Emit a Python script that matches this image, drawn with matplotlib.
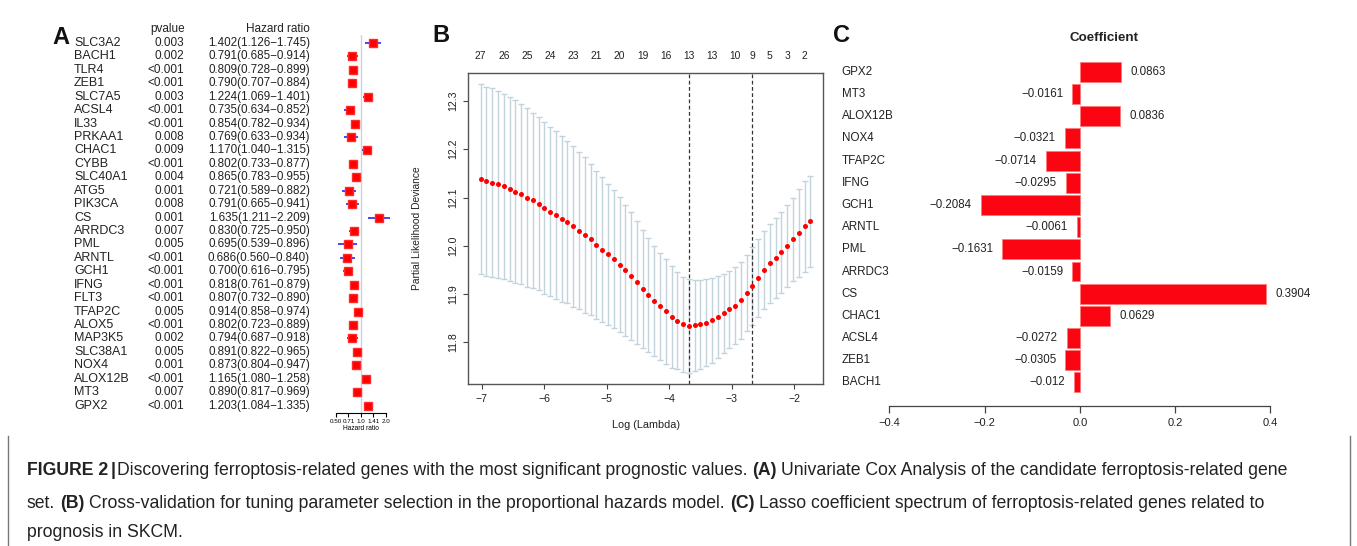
import matplotlib
matplotlib.use("Agg")
import matplotlib.pyplot as plt
import matplotlib.transforms as mtrans
from matplotlib.ticker import NullLocator, NullFormatter

plt.rcParams["font.family"] = ["Liberation Sans", "DejaVu Sans"]

W, H = 1357, 546

# ---- panel A: univariate Cox ----
genes_a = ["SLC3A2", "BACH1", "TLR4", "ZEB1", "SLC7A5", "ACSL4", "IL33", "PRKAA1",
           "CHAC1", "CYBB", "SLC40A1", "ATG5", "PIK3CA", "CS", "ARRDC3", "PML",
           "ARNTL", "GCH1", "IFNG", "FLT3", "TFAP2C", "ALOX5", "MAP3K5", "SLC38A1",
           "NOX4", "ALOX12B", "MT3", "GPX2"]
pvals_a = ["0.003", "0.002", "<0.001", "<0.001", "0.003", "<0.001", "<0.001", "0.008",
           "0.009", "<0.001", "0.004", "0.001", "0.008", "0.001", "0.007", "0.005",
           "<0.001", "<0.001", "<0.001", "<0.001", "0.005", "<0.001", "0.002", "0.005",
           "0.001", "<0.001", "0.007", "<0.001"]
hr_a = [1.402, 0.791, 0.809, 0.790, 1.224, 0.735, 0.854, 0.769, 1.170, 0.802, 0.865,
        0.721, 0.791, 1.635, 0.830, 0.695, 0.686, 0.700, 0.818, 0.807, 0.914, 0.802,
        0.794, 0.891, 0.873, 1.165, 0.890, 1.203]
lo_a = [1.126, 0.685, 0.728, 0.707, 1.069, 0.634, 0.782, 0.633, 1.040, 0.733, 0.783,
        0.589, 0.665, 1.211, 0.725, 0.539, 0.560, 0.616, 0.761, 0.732, 0.858, 0.723,
        0.687, 0.822, 0.804, 1.080, 0.817, 1.084]
hi_a = [1.745, 0.914, 0.899, 0.884, 1.401, 0.852, 0.934, 0.934, 1.315, 0.877, 0.955,
        0.882, 0.941, 2.209, 0.950, 0.896, 0.840, 0.795, 0.879, 0.890, 0.974, 0.889,
        0.918, 0.965, 0.947, 1.258, 0.969, 1.335]
hr_ticks = [0.50, 0.71, 1.0, 1.41, 2.0]
hr_tick_labels = ["0.50", "0.71", "1.0", "1.41", "2.0"]

# ---- panel B: cross-validation curve ----
log_lambda = [-7.016, -6.924, -6.831, -6.739, -6.646, -6.554, -6.461, -6.369, -6.276, -6.184,
              -6.091, -5.999, -5.906, -5.814, -5.721, -5.629, -5.536, -5.444, -5.351, -5.259,
              -5.166, -5.074, -4.981, -4.889, -4.796, -4.704, -4.611, -4.519, -4.426, -4.334,
              -4.241, -4.149, -4.056, -3.964, -3.871, -3.779, -3.686, -3.594, -3.501, -3.409,
              -3.316, -3.224, -3.131, -3.039, -2.946, -2.854, -2.761, -2.669, -2.576, -2.484,
              -2.391, -2.299, -2.206, -2.114, -2.021, -1.929, -1.836, -1.744]
cv_mean = [12.138, 12.134, 12.131, 12.127, 12.123, 12.118, 12.112, 12.107, 12.100, 12.094,
           12.087, 12.079, 12.071, 12.064, 12.056, 12.049, 12.040, 12.031, 12.022, 12.013,
           12.002, 11.992, 11.982, 11.972, 11.961, 11.949, 11.937, 11.924, 11.911, 11.898,
           11.885, 11.875, 11.864, 11.853, 11.845, 11.837, 11.834, 11.835, 11.837, 11.841,
           11.846, 11.853, 11.860, 11.868, 11.876, 11.887, 11.902, 11.916, 11.933, 11.950,
           11.964, 11.975, 11.987, 12.000, 12.013, 12.027, 12.040, 12.051]
cv_se = [0.197, 0.196, 0.195, 0.194, 0.192, 0.190, 0.189, 0.186, 0.185, 0.182,
         0.179, 0.178, 0.176, 0.174, 0.172, 0.168, 0.167, 0.163, 0.161, 0.156,
         0.153, 0.150, 0.146, 0.143, 0.140, 0.136, 0.132, 0.127, 0.122, 0.118,
         0.114, 0.111, 0.108, 0.106, 0.101, 0.099, 0.097, 0.094, 0.092, 0.090,
         0.088, 0.085, 0.082, 0.080, 0.079, 0.080, 0.078, 0.081, 0.080, 0.081,
         0.082, 0.083, 0.084, 0.085, 0.087, 0.091, 0.094, 0.094]
lambda_min = -3.686
lambda_1se = -2.669
top_pos = [-7.016, -6.646, -6.276, -5.906, -5.536, -5.166, -4.796, -4.426,
           -4.056, -3.686, -3.316, -2.946, -2.669, -2.391, -2.114, -1.836]
top_nonzero = ["27", "26", "25", "24", "23", "21", "20", "19",
               "16", "13", "13", "10", "9", "5", "3", "2"]

# ---- panel C: lasso coefficients ----
genes_c = ["GPX2", "MT3", "ALOX12B", "NOX4", "TFAP2C", "IFNG", "GCH1", "ARNTL",
           "PML", "ARRDC3", "CS", "CHAC1", "ACSL4", "ZEB1", "BACH1"]
coef_c = [0.0863, -0.0161, 0.0836, -0.0321, -0.0714, -0.0295, -0.2084, -0.0061,
          -0.1631, -0.0159, 0.3904, 0.0629, -0.0272, -0.0305, -0.012]
coef_labels = ["0.0863", "\u22120.0161", "0.0836", "\u22120.0321", "\u22120.0714",
               "\u22120.0295", "\u22120.2084", "\u22120.0061", "\u22120.1631", "\u22120.0159",
               "0.3904", "0.0629", "\u22120.0272", "\u22120.0305", "\u22120.012"]


def px_rect(l, t, r, b):
    return [l / W, 1 - b / H, (r - l) / W, (b - t) / H]


fig = plt.figure(figsize=(W / 100, H / 100), dpi=100)

# ================= A =================
axA = fig.add_axes(px_rect(335.7, 35, 386, 413))
rows = list(range(len(genes_a)))
axA.set_xscale("log", base=2)
axA.set_xlim(0.5, 2.0)
axA.set_ylim(27.55, -0.6)
axA.axvline(1.0, color="#c9d3e2", lw=1, zorder=0)
axA.hlines(rows, lo_a, hi_a, color="#2626ff", lw=1.2, clip_on=False, zorder=2)
axA.plot(hr_a, rows, "s", color="#ff0000", ms=5.3, mec="#ff2a2a", clip_on=False, zorder=3)
for s in ["top", "right", "left"]:
    axA.spines[s].set_visible(False)
axA.spines["bottom"].set_bounds(0.5, 2.0)
axA.spines["bottom"].set_linewidth(0.8)
axA.set_yticks([])
axA.set_xticks(hr_ticks)
axA.set_xticklabels(hr_tick_labels)
axA.xaxis.set_minor_locator(NullLocator())
axA.xaxis.set_minor_formatter(NullFormatter())
axA.tick_params(axis="x", labelsize=4.5, length=3, width=0.8, pad=1.5)
axA.set_xlabel("Hazard ratio", fontsize=4.8, labelpad=0.5)

trA = mtrans.blended_transform_factory(fig.transFigure, axA.transData)
for i, g in enumerate(genes_a):
    hr_txt = f"{hr_a[i]:.3f}({lo_a[i]:.3f}\u2212{hi_a[i]:.3f})"
    axA.text(74 / W, i, g, transform=trA, ha="left", va="center", fontsize=9.0, color="#222")
    axA.text(184 / W, i, pvals_a[i], transform=trA, ha="right", va="center", fontsize=8.5, color="#222")
    axA.text(310 / W, i, hr_txt, transform=trA, ha="right", va="center", fontsize=8.4, color="#222")
axA.text(168 / W, -1.05, "pvalue", transform=trA, ha="center", va="center", fontsize=8.5, color="#222")
axA.text(310 / W, -1.05, "Hazard ratio", transform=trA, ha="right", va="center", fontsize=8.5, color="#222")

# ================= B =================
axB = fig.add_axes(px_rect(468, 72.7, 823, 384))
axB.errorbar(log_lambda, cv_mean, yerr=cv_se, fmt="none", ecolor="#c3d3dc",
             elinewidth=1.0, capsize=2.5, capthick=1.0, zorder=1)
axB.scatter(log_lambda, cv_mean, s=13, color="#ff0000", zorder=3, linewidths=0)
axB.axvline(lambda_min, color="#333333", lw=0.9, ls=(0, (3, 2)), zorder=2)
axB.axvline(lambda_1se, color="#333333", lw=0.9, ls=(0, (3, 2)), zorder=2)
axB.set_xlim(-7.22, -1.54)
axB.set_ylim(11.7136, 12.3586)
axB.set_xticks([-7, -6, -5, -4, -3, -2])
axB.set_xticklabels(["\u22127", "\u22126", "\u22125", "\u22124", "\u22123", "\u22122"])
axB.set_yticks([11.8, 11.9, 12.0, 12.1, 12.2, 12.3])
axB.set_yticklabels(["11.8", "11.9", "12.0", "12.1", "12.2", "12.3"], rotation=90, va="center")
axB.tick_params(labelsize=7.6, length=3.5, width=0.8, color="#444", labelcolor="#222", pad=3.5)
for s in axB.spines.values():
    s.set_color("#555555")
    s.set_linewidth(1.0)
axB.set_xlabel("Log (Lambda)", fontsize=7.8, color="#222", labelpad=12)
axB.set_ylabel("Partial Likelihood Deviance", fontsize=7.4, color="#222")
axB.yaxis.set_label_coords(-46 / 355, 0.5)
top = axB.secondary_xaxis("top")
top.set_xticks(top_pos)
top.set_xticklabels(top_nonzero)
top.tick_params(length=0, labelsize=7.4, labelcolor="#222", pad=8.5)
top.spines["top"].set_visible(False)

# ================= C =================
axC = fig.add_axes(px_rect(889.3, 58, 1270.3, 406))
rows_c = list(range(len(genes_c)))
axC.barh(rows_c, coef_c, height=0.9, color="#fb0512", edgecolor="#ff7a7a", linewidth=0.6)
axC.set_xlim(-0.4, 0.4)
axC.set_ylim(15.06, -0.62)
for s in ["top", "right", "left"]:
    axC.spines[s].set_visible(False)
axC.spines["bottom"].set_bounds(-0.4, 0.4)
axC.spines["bottom"].set_color("#444")
axC.spines["bottom"].set_linewidth(0.9)
axC.set_yticks([])
axC.set_xticks([-0.4, -0.2, 0.0, 0.2, 0.4])
axC.set_xticklabels(["\u22120.4", "\u22120.2", "0.0", "0.2", "0.4"])
axC.tick_params(axis="x", labelsize=8.0, length=5, width=0.9, color="#444", labelcolor="#222", pad=4)
trC = mtrans.blended_transform_factory(fig.transFigure, axC.transData)
for i, g in enumerate(genes_c):
    axC.text(841.7 / W, i, g, transform=trC, ha="left", va="center", fontsize=8.4, color="#222")
    v = coef_c[i]
    axC.annotate(coef_labels[i], (v, i), xytext=(7 if v > 0 else -6.5, 0),
                 textcoords="offset points", ha="left" if v > 0 else "right",
                 va="center", fontsize=8.3, color="#222")
fig.text(1104 / W, 1 - 38.3 / H, "Coefficient", ha="center", va="center",
         fontsize=9.6, fontweight="bold", color="#222")

# panel letters
for lx, ly, lab in [(52, 37, "A"), (432, 36, "B"), (833, 36, "C")]:
    fig.text(lx / W, 1 - ly / H, lab, ha="left", va="center", fontsize=17,
             fontweight="bold", color="#111")

# ================= caption =================
renderer = fig.canvas.get_renderer()
cap_size = 12.7


def text_width(s, bold):
    t = fig.text(0, 0, s, fontsize=cap_size, fontweight="bold" if bold else "normal")
    w = t.get_window_extent(renderer).width
    t.remove()
    return w


space_w = text_width("x x", False) - text_width("xx", False)


def rich_line(x_px, y_px, segments):
    x = x_px
    for s, bold, gap in segments:
        x += gap * space_w
        t = fig.text(x / W, 1 - y_px / H, s, fontsize=cap_size, ha="left", va="baseline",
                     fontweight="bold" if bold else "normal", color="#222")
        x += t.get_window_extent(renderer).width


rich_line(27, 475, [("FIGURE 2", True, 0), ("|", True, 0.4),
                    ("Discovering ferroptosis-related genes with the most significant prognostic values.", False, 0.3),
                    ("(A)", True, 1),
                    ("Univariate Cox Analysis of the candidate ferroptosis-related gene", False, 1)])
rich_line(27, 508, [("set.", False, 0), ("(B)", True, 1),
                    ("Cross-validation for tuning parameter selection in the proportional hazards model.", False, 1),
                    ("(C)", True, 1),
                    ("Lasso coefficient spectrum of ferroptosis-related genes related to", False, 1)])
rich_line(27, 537, [("prognosis in SKCM.", False, 0)])

# caption box side rules
fig.add_artist(plt.Line2D([8 / W, 8 / W], [0, 1 - 436 / H], color="#777", lw=1))
fig.add_artist(plt.Line2D([1350 / W, 1350 / W], [0, 1 - 436 / H], color="#777", lw=1))

fig.savefig("out.png", dpi=100)
